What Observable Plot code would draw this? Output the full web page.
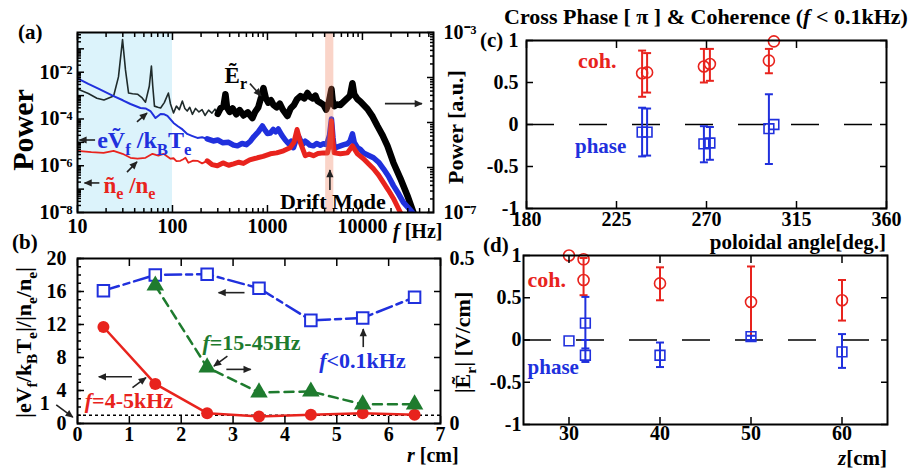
<!DOCTYPE html>
<html><head><meta charset="utf-8">
<script src="https://cdn.jsdelivr.net/npm/d3@7"></script>
<script src="https://cdn.jsdelivr.net/npm/@observablehq/plot@0.6"></script>
<style>
body{margin:0;background:#fff}
#chart{position:relative;width:915px;height:475px;overflow:hidden;background:#fff}
#chart svg{position:absolute;left:0;top:0;max-width:none !important;background:transparent !important;overflow:visible}
</style></head><body><div id="chart"></div>
<script>
// ---------- (a) power spectra: frequency [Hz] and log10(power) ----------
const erFreq = [10,13,16,19,22,24,27,29.8,32,34.5,38,42.8,48,52,57,60,62,64.6,70,75,82,90.6,95.3,102.6,110,118,127,135,143,152,162,175,190,205,220,240,260,280,300,320,345,361,375,400,430,470,510,560,620,695,740,800,860,907,960,1020,1090,1157,1250,1350,1450,1625,1750,1900,2050,2225,2450,2638,2800,3000,3200,3360,3600,3900,4150,4400,4720,4850,5050,5400,5865,6400,6955,7400,7850,8200,8860,9500,10300,11300,12800,14390,16300,18340,21190,25120,29760,34440,38000];
const erLogP = [-2.72,-2.91,-3.11,-3.19,-3.08,-3.02,-2.2,-0.60,-1.9,-2.89,-2.92,-2.94,-3.10,-3.28,-2.6,-1.74,-2.6,-3.45,-3.50,-3.53,-3.30,-2.89,-3.36,-3.74,-3.45,-3.60,-3.23,-3.55,-3.66,-3.50,-3.80,-3.55,-3.70,-3.60,-3.85,-3.62,-3.75,-3.58,-3.78,-3.55,-3.45,-2.94,-3.50,-3.70,-3.55,-3.80,-3.62,-3.85,-3.72,-3.96,-3.70,-3.50,-3.05,-2.68,-3.10,-3.30,-3.20,-3.40,-3.50,-3.35,-3.60,-3.87,-3.55,-3.40,-3.15,-3.02,-3.12,-2.89,-3.05,-3.12,-3.00,-3.23,-3.30,-3.40,-3.60,-3.35,-2.72,-3.20,-3.45,-3.38,-3.40,-3.25,-3.11,-3.00,-2.47,-2.95,-3.15,-3.25,-3.40,-3.57,-3.90,-4.30,-4.70,-5.15,-5.87,-6.55,-7.28,-8.00,-8.6];
const vfFreq = [10,13,17,24,30,36.1,46,52,58.6,66.3,75,82,88.5,102.6,113,125,143,160,183,205,232,269,300,340,390,440,483,540,600,664,720,800,884,950,1000,1073,1150,1220,1300,1420,1540,1670,1780,1880,1980,2110,2250,2380,2500,2600,2800,3050,3300,3600,3880,4200,4500,4720,4900,5050,5400,5865,6400,6955,7400,7850,8200,8860,9500,10260,11500,13070,14800,16650,18800,21190,24000,27000,33700,37000];
const vfLogP = [-2.26,-2.50,-2.72,-3.02,-3.20,-3.36,-3.53,-3.55,-3.66,-3.96,-3.79,-3.80,-3.87,-4.17,-4.30,-4.42,-4.64,-4.72,-4.81,-4.78,-4.85,-4.94,-4.90,-5.02,-5.00,-5.12,-5.15,-5.05,-5.10,-4.94,-4.75,-4.55,-4.30,-4.50,-4.62,-4.60,-4.45,-4.55,-4.43,-4.70,-4.90,-5.06,-4.95,-5.23,-4.95,-4.72,-4.95,-5.06,-4.95,-5.00,-5.12,-5.15,-5.05,-5.12,-5.06,-5.10,-4.70,-4.00,-4.80,-5.28,-5.20,-5.15,-5.10,-5.06,-4.95,-4.64,-5.00,-5.23,-5.30,-5.45,-5.55,-5.66,-5.85,-6.13,-6.45,-6.85,-7.20,-7.57,-8.00,-8.4];
const neFreq = [10,14,18.8,24,29.8,36.1,42.8,52,61.6,71,80.4,95.3,102.6,110,121,130,137,147,165,183,205,232,260,297,340,390,440,500,558,650,784,900,1073,1250,1475,1730,1900,2050,2225,2500,2750,3050,3400,3880,4285,4500,4720,4900,5050,5865,6955,7850,8860,10260,11500,13070,14800,16650,18800,21190,25120,28000];
const neLogP = [-5.36,-5.42,-5.45,-5.36,-5.49,-5.66,-5.70,-5.66,-5.49,-5.57,-5.49,-5.70,-5.68,-5.80,-5.79,-5.72,-5.66,-5.87,-5.78,-5.79,-5.90,-5.79,-5.95,-6.00,-5.88,-5.98,-5.92,-5.85,-5.90,-5.75,-5.66,-5.60,-5.49,-5.45,-5.36,-5.23,-5.00,-4.45,-5.02,-5.57,-5.50,-5.57,-5.48,-5.45,-5.45,-5.10,-4.09,-5.00,-5.45,-5.49,-5.45,-5.15,-5.49,-5.70,-5.90,-6.13,-6.40,-6.72,-7.05,-7.40,-8.00,-8.4];
const lowBand = [10, 100];      // f < 0.1 kHz
const driftBand = [4100, 5000];  // drift mode
const xTicksA = [10, 100, 1000, 10000];
const yDecadesA = [1e-8,1e-7,1e-6,1e-5,1e-4,1e-3,1e-2,1e-1];
const yLabelsA = [1e-8, 1e-6, 1e-4, 1e-2];
const yDecadesA2 = [1e-7,1e-6,1e-5,1e-4,1e-3];
const yLabelsA2 = [1e-7, 1e-3];

// ---------- (b) radial profiles ----------
const radius = [0.5, 1.5, 2.5, 3.5, 4.5, 5.5, 6.5];
const ratioLowF = [16.1, 18.0, 18.1, 16.4, 12.5, 12.8, 15.3];    // f<0.1kHz
const ratioDrift = [11.7, 4.8, 1.25, 0.85, 1.05, 1.25, 1.05];    // f=4-5kHz
const erRadius = [1.5, 2.5, 3.5, 4.5, 5.5, 6.5];
const erAmp = [0.418, 0.170, 0.094, 0.097, 0.058, 0.058];       // f=15-45Hz, |Er| [V/cm]
const xTicksB = [0,1,2,3,4,5,6,7];
const yTicksB = [0,4,8,12,16,20];
const yTicksB2 = [0,0.1,0.2,0.3,0.4,0.5];

// ---------- (c) poloidal angle ----------
const cAngleCoh = [237.8, 240.3, 268.7, 271.7, 301.2, 303.7];
const cCoh   = [0.61, 0.62, 0.69, 0.72, 0.76, 0.99];
const cCohHi = [0.88, 0.85, 0.90, 0.90, 0.90, null];
const cCohLo = [0.33, 0.38, 0.50, 0.52, 0.61, null];
const cAnglePh = [237.8, 240.3, 268.7, 271.7, 301.2, 303.7];
const cPh   = [-0.09, -0.09, -0.23, -0.22, -0.05, 0.0];
const cPhHi = [0.20, 0.19, -0.02, -0.03, 0.36, null];
const cPhLo = [-0.38, -0.37, -0.45, -0.42, -0.47, null];
const xTicksC = [180, 225, 270, 315, 360];

// ---------- (d) axial position ----------
const dZCoh = [30, 31.6, 31.6, 40, 50, 60];
const dCoh   = [1.0, 0.955, 0.71, 0.67, 0.45, 0.47];
const dCohHi = [null, null, 0.97, 0.86, 0.87, 0.71];
const dCohLo = [null, null, 0.53, 0.47, 0.0, 0.23];
const dZPh = [30, 31.8, 31.8, 40, 50, 60];
const dPh   = [-0.01, 0.20, -0.18, -0.18, 0.04, -0.14];
const dPhHi = [null, 0.51, 0.0, -0.03, 0.05, 0.07];
const dPhLo = [null, -0.1, -0.26, -0.32, 0.0, -0.33];
const xTicksD = [30, 40, 50, 60];
const yTicksCD = [-1, -0.5, 0, 0.5, 1];

// ---------- layout / helpers ----------
const W = 915, H = 475;
const root = document.getElementById("chart");
const serif = "'Liberation Serif','Times New Roman',serif";
const RED = "#e8231d", BLUE = "#2030dd", GREEN = "#1e7b2e";
const frameA = {l: 77, r: 433, t: 32, b: 212};
const frameB = {l: 77, r: 440, t: 258, b: 423};
const frameC = {l: 526, r: 886, t: 40, b: 208};
const frameD = {l: 523, r: 887, t: 255, b: 424};

function makePlot(f, opts) {
  const p = Plot.plot({
    width: W, height: H,
    marginLeft: f.l, marginRight: W - f.r, marginTop: f.t, marginBottom: H - f.b,
    style: {fontFamily: serif, fontWeight: "bold", fontSize: "20px", background: "transparent", overflow: "visible"},
    ...opts
  });
  root.appendChild(p);
  return p;
}
const none = () => "";
const supMap = {"-": "⁻", "0": "⁰", "1": "¹", "2": "²", "3": "³", "4": "⁴", "5": "⁵", "6": "⁶", "7": "⁷", "8": "⁸", "9": "⁹"};
const pow10 = d => "10" + String(Math.round(Math.log10(d))).replace(/./g, c => supMap[c]);
const fmt = d => String(d);
const capSymbol = {draw(ctx) { ctx.moveTo(-4, 0); ctx.lineTo(4, 0); }};

function tickMarks(kind, ticks, anchor, size, fmtFn, pad) {
  const A = kind === "x" ? Plot.axisX : Plot.axisY;
  return A(ticks, {anchor, tickSize: -size, tickPadding: size + (pad ?? 0), tickFormat: fmtFn ?? none, label: null, strokeWidth: 1.5});
}
function minorLog(decades) {
  return decades.flatMap(d => [2,3,4,5,6,7,8,9].map(m => +(m * d).toPrecision(3)));
}
let markerCount = 0;
function arrow(p, x1, y1, x2, y2, color = "#222") {
  const sx = p.scale("x").apply, sy = p.scale("y").apply;
  const id = "ah" + (markerCount++);
  const s = d3.select(p);
  s.append("defs").append("marker").attr("id", id).attr("viewBox", "0 0 10 10")
    .attr("refX", 9).attr("refY", 5).attr("markerWidth", 9).attr("markerHeight", 8)
    .attr("markerUnits", "userSpaceOnUse").attr("orient", "auto")
    .append("path").attr("d", "M0,0.5L10,5L0,9.5Z").attr("fill", color);
  s.append("line").attr("x1", sx(x1)).attr("y1", sy(y1)).attr("x2", sx(x2)).attr("y2", sy(y2))
    .attr("stroke", color).attr("stroke-width", 1.6).attr("marker-end", `url(#${id})`);
}
function rich(p, x, y, parts, o = {}) {
  const size = o.size ?? 20;
  const t = d3.select(p).append("text")
    .attr("transform", `translate(${x},${y})` + (o.rotate ? ` rotate(${o.rotate})` : ""))
    .attr("text-anchor", o.anchor ?? "start")
    .style("font-family", serif).style("font-weight", "bold").style("font-size", size + "px")
    .attr("fill", o.color ?? "#000");
  let shift = -0.35 * size;
  for (const [s, k] of parts) {
    const target = k === "sub" ? 0.28 * size : k === "sup" ? -0.42 * size : 0;
    const ts = t.append("tspan").text(s).attr("dy", target - shift);
    shift = target;
    if (k === "sub" || k === "sup") ts.style("font-size", (size * 0.7) + "px");
    if (k === "i") ts.style("font-style", "italic");
  }
}
function richData(p, x, y, parts, o = {}) {
  rich(p, p.scale("x").apply(x), p.scale("y").apply(y), parts, o);
}

// ---------- panel (a) ----------
const erRows = erFreq.map((f, i) => ({f, p: 10 ** erLogP[i]}));
const vfRows = vfFreq.map((f, i) => ({f, p: 10 ** vfLogP[i]}));
const neRows = neFreq.map((f, i) => ({f, p: 10 ** neLogP[i]}));
const pa = makePlot(frameA, {
  x: {type: "log", domain: [10, 56000]},
  y: {type: "log", domain: [1e-8, 0.5]},
  marks: [
    Plot.rect([lowBand], {x1: d => d[0], x2: d => d[1], fill: "#dcf3fb"}),
    Plot.line(erRows.filter(d => d.f <= 300), {x: "f", y: "p", stroke: "#1f2b2b", strokeWidth: 1.6, clip: true}),
    Plot.line(erRows.filter(d => d.f >= 300), {x: "f", y: "p", stroke: "#000", strokeWidth: 6.5, strokeLinejoin: "round", clip: true}),
    Plot.line(vfRows.filter(d => d.f <= 232), {x: "f", y: "p", stroke: BLUE, strokeWidth: 2, clip: true}),
    Plot.line(vfRows.filter(d => d.f >= 232), {x: "f", y: "p", stroke: BLUE, strokeWidth: 5.5, strokeLinejoin: "round", clip: true}),
    Plot.line(neRows.filter(d => d.f <= 232), {x: "f", y: "p", stroke: RED, strokeWidth: 1.8, clip: true}),
    Plot.line(neRows.filter(d => d.f >= 232), {x: "f", y: "p", stroke: RED, strokeWidth: 5, strokeLinejoin: "round", clip: true}),
    Plot.rect([driftBand], {x1: d => d[0], x2: d => d[1], fill: "#f07a55", fillOpacity: 0.32}),
    Plot.frame({strokeWidth: 2}),
    tickMarks("x", xTicksA, "bottom", 7, fmt, 6),
    tickMarks("x", xTicksA, "top", 7),
    tickMarks("x", minorLog([10, 100, 1000, 10000]).filter(v => v < 56000), "bottom", 4),
    tickMarks("x", minorLog([10, 100, 1000, 10000]).filter(v => v < 56000), "top", 4),
    tickMarks("y", yDecadesA, "left", 7, d => yLabelsA.includes(d) ? pow10(d) : "", 5),
    tickMarks("y", minorLog(yDecadesA).filter(v => v < 0.5), "left", 4)
  ]
});
const pa2 = makePlot(frameA, {
  y: {type: "log", domain: [1e-7, 1e-3]},
  marks: [
    tickMarks("y", yDecadesA2, "right", 7, d => yLabelsA2.includes(d) ? pow10(d) : "", 10),
    tickMarks("y", minorLog(yDecadesA2.slice(0, 4)), "right", 4)
  ]
});
rich(pa, frameA.l - 59, frameA.t, [["(a)"]], {size: 21});
rich(pa, frameA.l - 55, (frameA.t + frameA.b) / 2 + 8, [["Power"]], {size: 30, rotate: -90, anchor: "middle"});
rich(pa, frameA.r + 22, (frameA.t + frameA.b) / 2 + 5, [["Power [a.u.]"]], {size: 22, rotate: -90, anchor: "middle"});
rich(pa, frameA.r - 40, frameA.b + 19, [["f", "i"], [" [Hz]"]], {size: 20});
richData(pa, 470, 7.4e-3, [["Ẽ"], ["r", "sub"]], {size: 23, anchor: "middle"});
arrow(pa, 662, 3.1e-3, 865, 9.3e-4);
arrow(pa, 17460, 4.3e-4, 42800, 4.3e-4);
richData(pa, 4950, 2.9e-8, [["Drift Mode"]], {size: 22, anchor: "middle"});
arrow(pa, 4600, 8.7e-8, 4600, 6.3e-7);
arrow(pa, 15.5, 1.2e-5, 10.6, 1.2e-5);
richData(pa, 16.3, 1.2e-5, [["eṼ"], ["f", "sub"], [" /k"], ["B", "sub"], ["T"], ["e", "sub"]], {size: 24, color: BLUE});
arrow(pa, 42.8, 7.2e-5, 54.6, 1.7e-4);
arrow(pa, 17.2, 1.75e-7, 12.0, 1.75e-7);
richData(pa, 19, 1.5e-7, [["ñ"], ["e", "sub"], [" /n"], ["e", "sub"]], {size: 23, color: RED});
arrow(pa, 33.6, 5.1e-7, 42.8, 1.4e-6);

// ---------- panel (b) ----------
const lowRows = radius.map((r, i) => ({r, v: ratioLowF[i]}));
const driftRows = radius.map((r, i) => ({r, v: ratioDrift[i]}));
const erRowsB = erRadius.map((r, i) => ({r, v: erAmp[i]}));
const pb = makePlot(frameB, {
  x: {domain: [0, 7]},
  y: {domain: [0, 20]},
  marks: [
    Plot.ruleY([1], {strokeDasharray: "3,3", strokeWidth: 1.5}),
    Plot.line(lowRows, {x: "r", y: "v", stroke: BLUE, strokeWidth: 2.5, strokeDasharray: "16,5,6,5"}),
    Plot.dot(lowRows, {x: "r", y: "v", symbol: "square", r: 6.5, stroke: BLUE, fill: "white", strokeWidth: 2}),
    Plot.line(driftRows, {x: "r", y: "v", stroke: RED, strokeWidth: 2.5}),
    Plot.dot(driftRows, {x: "r", y: "v", r: 6, fill: RED}),
    Plot.frame({strokeWidth: 2}),
    tickMarks("x", xTicksB, "bottom", 7, fmt, 3),
    tickMarks("x", xTicksB, "top", 7),
    tickMarks("y", yTicksB, "left", 7, fmt, 11),
    tickMarks("y", d3.range(0, 21), "left", 4)
  ]
});
const pb2 = makePlot(frameB, {
  x: {domain: [0, 7], axis: null},
  y: {domain: [0, 0.5]},
  marks: [
    Plot.line(erRowsB, {x: "r", y: "v", stroke: GREEN, strokeWidth: 2.5, strokeDasharray: "9,6"}),
    Plot.dot(erRowsB, {x: "r", y: "v", symbol: "triangle", r: 6.5, fill: GREEN}),
    tickMarks("y", yTicksB2, "right", 7, d => (d === 0 || d === 0.5) ? fmt(d) : "", 9)
  ]
});
rich(pb, frameB.l - 65, frameB.t - 16, [["(b)"]], {size: 21});
rich(pb, frameB.l - 54, (frameB.t + frameB.b) / 2 + 2,
  [["|eV"], ["f", "sub"], ["/k"], ["B", "sub"], ["T"], ["e", "sub"], ["|/|n"], ["e", "sub"], ["/n"], ["e", "sub"], ["|"]],
  {size: 22, rotate: -90, anchor: "middle"});
rich(pb, frameB.r + 22, (frameB.t + frameB.b) / 2 + 2, [["|Ẽ"], ["r", "sub"], ["| [V/cm]"]], {size: 22, rotate: -90, anchor: "middle"});
rich(pb, frameB.r - 33, frameB.b + 32, [["r", "i"], [" [cm]"]], {size: 20});
richData(pb, 2.42, 9.8, [["f", "i"], ["=15-45Hz"]], {size: 22, color: GREEN});
arrow(pb, 2.9, 8.1, 2.64, 6.9);
arrow(pb, 2.88, 6.5, 3.35, 6.5);
richData(pb, 4.67, 7.6, [["f", "i"], ["<0.1kHz"]], {size: 22, color: BLUE});
arrow(pb, 5.52, 9.2, 5.52, 11.4);
arrow(pb, 3.23, 15.8, 2.73, 15.8);
richData(pb, 0.15, 2.8, [["f", "i"], ["=4-5kHz"]], {size: 22, color: RED});
arrow(pb, 1.06, 5.6, 0.42, 5.6);
arrow(pb, 1.07, 4.3, 1.33, 5.5);
richData(pb, -0.62, 2.4, [["1"]], {size: 20, anchor: "middle"});
arrow(pb, -0.4, 2.2, -0.08, 0.7);

// ---------- panels (c) and (d) ----------
function cdMarks(xs, coh, cohHi, cohLo, xp, ph, phHi, phLo) {
  const cRows = xs.map((x, i) => ({x, v: coh[i], hi: cohHi[i], lo: cohLo[i]}));
  const pRows = xp.map((x, i) => ({x, v: ph[i], hi: phHi[i], lo: phLo[i]}));
  const cBars = cRows.filter(d => d.hi != null), pBars = pRows.filter(d => d.hi != null);
  return [
    Plot.ruleY([0], {strokeDasharray: "28,25", strokeWidth: 1.5}),
    Plot.link(cBars, {x1: "x", x2: "x", y1: "lo", y2: "hi", stroke: RED, strokeWidth: 2}),
    Plot.dot(cBars, {x: "x", y: "hi", symbol: capSymbol, stroke: RED, strokeWidth: 2}),
    Plot.dot(cBars, {x: "x", y: "lo", symbol: capSymbol, stroke: RED, strokeWidth: 2}),
    Plot.dot(cRows, {x: "x", y: "v", r: 5.5, stroke: RED, strokeWidth: 1.6, fill: "none"}),
    Plot.link(pBars, {x1: "x", x2: "x", y1: "lo", y2: "hi", stroke: BLUE, strokeWidth: 2}),
    Plot.dot(pBars, {x: "x", y: "hi", symbol: capSymbol, stroke: BLUE, strokeWidth: 2}),
    Plot.dot(pBars, {x: "x", y: "lo", symbol: capSymbol, stroke: BLUE, strokeWidth: 2}),
    Plot.dot(pRows, {x: "x", y: "v", symbol: "square", r: 5.5, stroke: BLUE, strokeWidth: 1.6, fill: "none"}),
    Plot.frame({strokeWidth: 2})
  ];
}
const pc = makePlot(frameC, {
  x: {domain: [180, 360]},
  y: {domain: [-1, 1]},
  marks: [
    ...cdMarks(cAngleCoh, cCoh, cCohHi, cCohLo, cAnglePh, cPh, cPhHi, cPhLo),
    tickMarks("x", xTicksC, "bottom", 7, fmt, 3),
    tickMarks("x", xTicksC, "top", 7),
    tickMarks("y", yTicksCD, "left", 7, fmt, 8),
    tickMarks("y", yTicksCD, "right", 7)
  ]
});
rich(pc, (frameC.l + frameC.r) / 2, frameC.t - 24,
  [["Cross Phase [ π ] & Coherence ("], ["f", "i"], [" < 0.1kHz)"]], {size: 22, anchor: "middle"});
rich(pc, frameC.l - 46, frameC.t, [["(c)"]], {size: 21});
rich(pc, frameC.r, frameC.b + 34, [["poloidal angle[deg.]"]], {size: 21, anchor: "end"});
richData(pc, 206, 0.76, [["coh."]], {size: 22, color: RED});
richData(pc, 204.5, -0.26, [["phase"]], {size: 21, color: BLUE});

const pd = makePlot(frameD, {
  x: {domain: [25, 65]},
  y: {domain: [-1, 1]},
  marks: [
    ...cdMarks(dZCoh, dCoh, dCohHi, dCohLo, dZPh, dPh, dPhHi, dPhLo),
    tickMarks("x", xTicksD, "bottom", 7, fmt, 1),
    tickMarks("x", xTicksD, "top", 7),
    tickMarks("y", yTicksCD, "left", 7, fmt, 2),
    tickMarks("y", yTicksCD, "right", 7)
  ]
});
rich(pd, frameD.l - 40, frameD.t - 10, [["(d)"]], {size: 21});
rich(pd, frameD.r, frameD.b + 34, [["z", "i"], ["[cm]"]], {size: 21, anchor: "end"});
richData(pd, 25.5, 0.71, [["coh."]], {size: 22, color: RED});
richData(pd, 25.5, -0.32, [["phase"]], {size: 21, color: BLUE});
</script></body></html>
